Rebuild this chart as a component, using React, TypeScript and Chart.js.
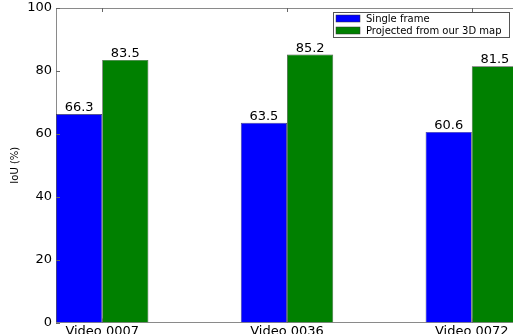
import React, { useEffect, useRef } from "react";
import { Chart, registerables } from "chart.js";

Chart.register(...registerables);

const categories = ["Video 0007", "Video 0036", "Video 0072"];
const singleFrame = [66.3, 63.5, 60.6];
const projected = [83.5, 85.2, 81.5];
const seriesLabels = ["Single frame", "Projected from our 3D map"];
const seriesColors = ["#0000ff", "#008000"];
const yTicks = [0, 20, 40, 60, 80, 100];
const yTitle = "IoU (%)";

const FONT = "'DejaVu Sans', sans-serif";

const framePlugin = {
  id: "framePlugin",
  afterDatasetsDraw(chart: any) {
    const { ctx, chartArea } = chart;
    const { left, right, top, bottom } = chartArea;
    const xs = chart.scales.x;
    const ys = chart.scales.y;
    ctx.save();
    // top spine
    ctx.strokeStyle = "#8a8a8a";
    ctx.lineWidth = 1;
    ctx.beginPath();
    ctx.moveTo(left, Math.round(top) + 0.5);
    ctx.lineTo(right, Math.round(top) + 0.5);
    ctx.stroke();
    // inward ticks
    ctx.strokeStyle = "#666";
    ctx.beginPath();
    yTicks.forEach((v) => {
      const py = Math.round(ys.getPixelForValue(v)) + 0.5;
      ctx.moveTo(left, py);
      ctx.lineTo(left + 4, py);
    });
    categories.forEach((_, i) => {
      const px = Math.round(xs.getPixelForValue(i)) + 0.5;
      ctx.moveTo(px, top);
      ctx.lineTo(px, top + 4);
      ctx.moveTo(px, bottom);
      ctx.lineTo(px, bottom - 4);
    });
    ctx.stroke();

    // value labels
    ctx.fillStyle = "#000";
    ctx.font = `13px ${FONT}`;
    ctx.textAlign = "center";
    ctx.textBaseline = "alphabetic";
    chart.data.datasets.forEach((ds: any, di: number) => {
      const meta = chart.getDatasetMeta(di);
      meta.data.forEach((el: any, i: number) => {
        const v = ds.data[i].y;
        ctx.fillText(v.toFixed(1), el.x, el.y - 3);
      });
    });
    ctx.restore();
  },
  afterDraw(chart: any) {
    const { ctx } = chart;
    ctx.save();
    const bx = 333.5, by = 12.5, bw = 176, bh = 25;
    ctx.fillStyle = "#fff";
    ctx.fillRect(bx, by, bw, bh);
    ctx.strokeStyle = "#555";
    ctx.lineWidth = 1;
    ctx.strokeRect(bx, by, bw, bh);
    ctx.font = `10px ${FONT}`;
    ctx.textAlign = "left";
    ctx.textBaseline = "middle";
    chart.data.datasets.forEach((ds: any, i: number) => {
      const cy = 18.5 + i * 12;
      ctx.fillStyle = ds.backgroundColor;
      ctx.fillRect(336, cy - 3.5, 24, 7);
      ctx.strokeStyle = "#333";
      ctx.lineWidth = 0.5;
      ctx.strokeRect(336, cy - 3.5, 24, 7);
      ctx.fillStyle = "#000";
      ctx.fillText(ds.label, 366, cy + 0.5);
    });
    ctx.restore();
  },
};

export default function App() {
  const ref = useRef<HTMLCanvasElement | null>(null);
  useEffect(() => {
    if (!ref.current) return;
    const chart = new Chart(ref.current, {
      type: "bar",
      data: {
        datasets: [
          {
            label: seriesLabels[0],
            data: singleFrame.map((v, i) => ({ x: i, y: v })),
            backgroundColor: seriesColors[0],
            borderColor: "#444",
            borderWidth: 0.7,
            categoryPercentage: 0.5,
            barPercentage: 1,
          },
          {
            label: seriesLabels[1],
            data: projected.map((v, i) => ({ x: i, y: v })),
            backgroundColor: seriesColors[1],
            borderColor: "#444",
            borderWidth: 0.7,
            categoryPercentage: 0.5,
            barPercentage: 1,
          },
        ],
      },
      options: {
        responsive: false,
        animation: false,
        devicePixelRatio: 1,
        layout: { padding: { top: 8, left: 0, right: 0, bottom: 0 } },
        plugins: { legend: { display: false }, tooltip: { enabled: false } },
        scales: {
          x: {
            type: "linear",
            offset: false,
            min: -0.25,
            max: 2.25,
            grid: { display: false, drawTicks: false },
            border: { display: true, color: "#8a8a8a" },
            afterBuildTicks: (scale: any) => {
              scale.ticks = categories.map((_, i) => ({ value: i }));
            },
            afterFit: (scale: any) => {
              scale.height = 11.5;
              scale.paddingLeft = 0;
              scale.paddingRight = 0;
            },
            ticks: {
              autoSkip: false,
              maxRotation: 0,
              padding: 1,
              color: "#000",
              font: { family: FONT, size: 13 },
              callback: (v: any) => categories[v as number] ?? "",
            },
          },
          y: {
            min: 0,
            max: 100,
            grid: { display: false, drawTicks: false },
            border: { display: true, color: "#8a8a8a" },
            afterBuildTicks: (scale: any) => {
              scale.ticks = yTicks.map((v) => ({ value: v }));
            },
            afterFit: (scale: any) => {
              scale.width = 56;
              scale.paddingTop = 0;
              scale.paddingBottom = 0;
            },
            ticks: {
              padding: 4,
              color: "#000",
              font: { family: FONT, size: 13 },
            },
            title: {
              display: true,
              text: yTitle,
              color: "#000",
              font: { family: FONT, size: 10 },
              padding: { top: 9, bottom: 0 },
            },
          },
        },
      },
      plugins: [framePlugin],
    });
    return () => chart.destroy();
  }, []);
  return (
    <div style={{ position: "fixed", left: 0, top: 0, width: 513, height: 334, overflow: "hidden", background: "#fff" }}>
      <canvas ref={ref} width={518} height={334} style={{ display: "block" }} />
    </div>
  );
}
